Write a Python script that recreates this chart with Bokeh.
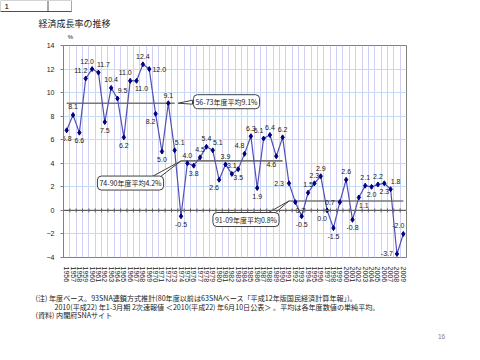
from bokeh.plotting import figure
from bokeh.layouts import column
from bokeh.models import ColumnDataSource, FixedTicker, Span, Label
from bokeh.core.properties import value
from bokeh.embed import file_html
from bokeh.resources import INLINE

# ---------------- data ----------------
years = ["1956", "1957", "1958", "1959", "1960", "1961", "1962", "1963", "1964", "1965",
         "1966", "1967", "1968", "1969", "1970", "1971", "1972", "1973", "1974", "1975",
         "1976", "1977", "1978", "1979", "1980", "1981", "1982", "1983", "1984", "1985",
         "1986", "1987", "1988", "1989", "1990", "1991", "1992", "1993", "1994", "1995",
         "1996", "1997", "1998", "1999", "2000", "2001", "2002", "2003", "2004", "2005",
         "2006", "2007", "2008", "2009"]
growth = [6.8, 8.1, 6.6, 11.2, 12.0, 11.7, 7.5, 10.4, 9.5, 6.2,
          11.0, 11.0, 12.4, 12.0, 8.2, 5.0, 9.1, 5.1, -0.5, 4.0,
          3.8, 4.5, 5.4, 5.1, 2.6, 3.9, 3.1, 3.5, 4.8, 6.3,
          1.9, 6.1, 6.4, 4.6, 6.2, 2.3, 0.7, -0.5, 1.5, 2.3,
          2.9, 0.0, -1.5, 0.7, 2.6, -0.8, 1.1, 2.1, 2.0, 2.2,
          2.3, 1.8, -3.7, -2.0]
# data-label placement (a=above, b=below, l=left, r=right ...)
label_pos = ["b", "a", "b", "al", "al", "ar", "b", "a", "ar", "b",
             "al", "br", "a", "r", "bl", "b", "a", "ar", "b", "a",
             "b", "a", "a", "ar", "bl", "a", "a", "b", "al", "a",
             "b", "al", "a", "bl", "a", "l", "br", "b", "a", "a",
             "a", "bl", "b", "l", "a", "b", "br", "a", "b", "a",
             "b", "ar", "l", "al"]
period_names = ["56-73年度平均9.1%", "74-90年度平均4.2%", "91-09年度平均0.8%"]
period_start = ["1956", "1974", "1991"]
period_end = ["1973", "1990", "2009"]
period_avg = [9.1, 4.2, 0.8]
y_ticks = [-4, -2, 0, 2, 4, 6, 8, 10, 12, 14]

title_text = "経済成長率の推移"
unit_text = "%"
cell_text = "1"
notes = ["(注) 年度ベース。93SNA連鎖方式推計(80年度以前は63SNAベース「平成12年版国民経済計算年報」)。",
         "2010(平成22) 年1-3月期 2次速報値 ＜2010(平成22) 年6月10日公表＞ 。平均は各年度数値の単純平均。",
         "(資料) 内閣府SNAサイト"]
page_no = "16"

# ---------------- layout (page pixels) ----------------
W = 470
TOP_H = 40          # header strip
MAIN_H = 245        # chart strip
BOT_H = 65          # footnote strip
PL, PT, PW, PH = 63, 45, 343, 215   # plot frame on the page
FL, FT = PL, PT - TOP_H
FR = W - PL - PW
FB = MAIN_H - FT - PH
n = len(years)
XMIN, XMAX = -0.5, n - 0.5
YMIN, YMAX = -4, 14

def X(px):
    return XMIN + (px - PL) / PW * (XMAX - XMIN)

def Y(py):
    return YMAX - (py - PT) / PH * (YMAX - YMIN)

JP = "Noto Sans CJK JP"
NUM = "Liberation Sans"

def strip(h):
    f = figure(width=W, height=h, output_backend="svg", toolbar_location=None,
               x_range=(0, W), y_range=(h, 0), x_axis_type=None, y_axis_type=None,
               min_border=0, frame_align=False)
    f.title.visible = False
    f.grid.visible = False
    f.outline_line_color = None
    f.background_fill_color = "white"
    f.border_fill_color = "white"
    return f

# ---------------- header ----------------
top = strip(TOP_H)
top.quad(left=[0, 48], right=[47, 71], top=[0, 0], bottom=[11, 11],
         fill_color="white", line_color="#a8a8a8", line_width=1)
top.segment(x0=[0], x1=[71], y0=[11], y1=[11], line_color="#505050", line_width=1.2)
top.text(x=[4], y=[6], text=[cell_text], text_font=value(NUM), text_font_size="8px",
         text_baseline="middle", text_color="black")
top.text(x=[38], y=[23], text=[title_text], text_font=value(JP), text_font_size="9px",
         text_baseline="middle", text_color="#202020")
top.text(x=[70], y=[36.5], text=[unit_text], text_font=value(NUM), text_font_size="6px",
         text_align="center", text_baseline="middle", text_color="#202020")

# ---------------- chart ----------------
p = figure(width=W, height=MAIN_H, output_backend="svg", toolbar_location=None,
           x_range=(XMIN, XMAX), y_range=(YMIN, YMAX), frame_align=False,
           min_border_left=FL, min_border_right=FR, min_border_top=FT, min_border_bottom=FB)
p.title.visible = False
p.outline_line_color = "#808080"
p.background_fill_color = "white"
p.border_fill_color = "white"

idx = list(range(n))
p.xaxis.ticker = FixedTicker(ticks=idx)
p.xaxis.major_label_overrides = {i: years[i] for i in idx}
p.xaxis.major_label_orientation = "vertical"
p.xaxis.axis_line_color = None
p.xaxis.major_tick_line_color = None
p.xaxis.minor_tick_line_color = None
p.xaxis.major_label_standoff = 3
p.xaxis.major_label_text_font_size = "7px"
p.xaxis.major_label_text_font = NUM
p.xaxis.major_label_text_color = "#202020"

p.yaxis.ticker = FixedTicker(ticks=y_ticks)
p.yaxis.axis_line_color = "#808080"
p.yaxis.major_tick_line_color = "#808080"
p.yaxis.major_tick_out = 3
p.yaxis.major_tick_in = 0
p.yaxis.minor_tick_line_color = None
p.yaxis.major_label_standoff = 6
p.yaxis.major_label_text_font_size = "7px"
p.yaxis.major_label_text_font = NUM
p.yaxis.major_label_text_color = "#202020"

p.xgrid.ticker = FixedTicker(ticks=[i + 0.5 for i in idx[:-1]])
p.xgrid.grid_line_color = "#d0d0f4"
p.xgrid.grid_line_width = 1
p.ygrid.ticker = FixedTicker(ticks=y_ticks)
p.ygrid.grid_line_color = "#c4dcf8"
p.ygrid.grid_line_width = 1

# zero line with small tick marks
p.add_layout(Span(location=0, dimension="width", line_color="#606060", line_width=1.2))
tk = [i + 0.5 for i in idx[:-1]]
p.segment(x0=tk, x1=tk, y0=[-0.17] * len(tk), y1=[0.17] * len(tk),
          line_color="#606060", line_width=1)

# period averages
xs0 = [years.index(s) for s in period_start]
xs1 = [years.index(e) for e in period_end]
p.segment(x0=xs0, x1=xs1, y0=period_avg, y1=period_avg, line_color="#777777", line_width=1.6)

# growth series
src = ColumnDataSource(dict(x=idx, y=growth, t=[f"{v:.1f}" for v in growth]))
p.line("x", "y", source=src, line_color="#5050b8", line_width=1.2)
p.scatter("x", "y", source=src, marker="diamond", size=5,
          fill_color="#000080", line_color="#000080")

off = {"a": (0, -8), "b": (0, 8), "l": (-10, 0), "r": (10, 0),
       "al": (-5, -8), "ar": (5, -8), "bl": (-5, 8), "br": (5, 8)}
src.data["dx"] = [off[c][0] for c in label_pos]
src.data["dy"] = [off[c][1] for c in label_pos]
p.text("x", "y", text="t", source=src, x_offset="dx", y_offset="dy",
       text_align="center", text_baseline="middle", text_font_size="7px",
       text_font=value(NUM), text_color="#202020")

# callouts (page-pixel placement)
boxes = [(226, 102), (130, 184.5), (245.5, 221.5)]
bases = [((192, 100.5), (192, 104.5)),
         ((146, 181), (156, 181)),
         ((260, 219), (270, 219))]
tips = [(xs1[0] + 0.55, period_avg[0]), (xs0[1], period_avg[1]), (xs0[2], period_avg[2])]
for k in range(3):
    a, b = bases[k]
    p.patch([X(a[0]), tips[k][0], X(b[0])], [Y(a[1]), tips[k][1], Y(b[1])],
            fill_color="white", line_color="#404040", line_width=1)
for k in range(3):
    bx, by = boxes[k]
    p.add_layout(Label(x=X(bx), y=Y(by), text=period_names[k], text_font=JP,
                       text_font_size="7px", text_align="center", text_baseline="middle",
                       text_color="#202020", background_fill_color="white",
                       border_line_color="#404040", border_line_width=1,
                       border_radius=4, padding=2))

# ---------------- footer ----------------
bot = strip(BOT_H)
by0 = TOP_H + MAIN_H
bot.text(x=[35, 54, 35], y=[297.5 - by0, 306 - by0, 314.5 - by0], text=notes,
         text_font=value(JP), text_font_size="7.1px", text_baseline="middle",
         text_color="#202020")
bot.text(x=[441], y=[336 - by0], text=[page_no], text_font=value(NUM), text_font_size="6.5px",
         text_align="center", text_baseline="middle", text_color="#808080")

layout = column(top, p, bot, spacing=0)
open("out.html", "w").write(file_html(layout, INLINE))
